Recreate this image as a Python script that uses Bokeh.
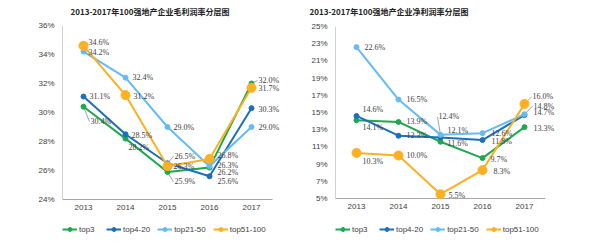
from bokeh.plotting import figure
from bokeh.layouts import row
from bokeh.models import (Range1d, FixedTicker, PrintfTickFormatter, Legend, LegendItem,
                          ColumnDataSource, Title, LabelSet)
from bokeh.embed import file_html
from bokeh.resources import INLINE

years = ["2013", "2014", "2015", "2016", "2017"]
series_names = ["top3", "top4-20", "top21-50", "top51-100"]

# gross margin (%)
gross_top3 = [30.4, 28.2, 25.9, 26.2, 32.0]
gross_top4_20 = [31.1, 28.5, 26.5, 25.6, 30.3]
gross_top21_50 = [34.2, 32.4, 29.0, 26.3, 29.0]
gross_top51_100 = [34.6, 31.2, 26.3, 26.8, 31.7]

# net margin (%)
net_top3 = [14.1, 13.9, 11.6, 9.7, 13.3]
net_top4_20 = [14.6, 12.3, 12.1, 11.8, 14.7]
net_top21_50 = [22.6, 16.5, 12.4, 12.6, 14.8]
net_top51_100 = [10.3, 10.0, 5.5, 8.3, 16.0]

gross_ticks = [24, 26, 28, 30, 32, 34, 36]
net_ticks = [5, 7, 9, 11, 13, 15, 17, 19, 21, 23, 25]

title_gross = "2013-2017年100强地产企业毛利润率分层图"
title_net = "2013-2017年100强地产企业净利润率分层图"

colors = ["#1FA84F", "#1E6EBE", "#66BBF2", "#FDB022"]
marker_sizes = [5, 5, 5, 9]

# label pixel offsets (dx, dy; dy positive = up) per series per year -- styling only
gross_offsets = [
    [(7, -15), (3, -9), (7, -10), (8, -5), (7, 3)],
    [(6, 0), (6, -1), (7, 7), (8, -5), (7, -1)],
    [(5, -1), (7, 0), (6, 0), (8, 1), (7, 0)],
    [(5, 3), (8, -1), (6, 0), (8, 3), (7, -1)],
]
net_offsets = [
    [(6, -7), (8, 0), (7, -2), (8, -1), (9, -1)],
    [(6, 6), (8, 0), (7, 7), (9, -1), (9, 3)],
    [(8, 0), (8, 0), (-2, 18), (9, 0), (9, 8)],
    [(6, -9), (8, 0), (8, -1), (11, -1), (8, 7)],
]
# which labels get a thin leader line (styling only)
gross_leaders = [
    [1, 0, 1, 0, 1],
    [0, 0, 1, 0, 0],
    [0, 0, 0, 0, 0],
    [1, 0, 0, 1, 0],
]
net_leaders = [
    [0, 0, 0, 0, 0],
    [0, 0, 0, 0, 0],
    [0, 0, 1, 0, 1],
    [0, 0, 0, 0, 1],
]

FONT = "Liberation Sans"
AXIS_COLOR = "#A6A6A6"
STEP = 42.0      # px per category
FRAME_TOP = 18
FRAME_BOTTOM = 234


def make_chart(title, data, ticks, offsets, leaders, left, top_px, bottom_px, title_offset):
    # top_px / bottom_px: pixel rows of the highest / lowest y tick
    ppu = (bottom_px - top_px) / (ticks[-1] - ticks[0])
    y0 = ticks[0] - (FRAME_BOTTOM - bottom_px) / ppu
    y1 = ticks[-1] + (top_px - FRAME_TOP) / ppu
    xs = list(range(len(years)))
    frame_w = 300 - left
    p = figure(width=300, height=249,
               x_range=Range1d(-0.5, -0.5 + frame_w / STEP), y_range=Range1d(y0, y1),
               output_backend="svg", toolbar_location=None,
               min_border_left=left, min_border_right=0,
               min_border_top=FRAME_TOP, min_border_bottom=249 - FRAME_BOTTOM)
    p.outline_line_color = None
    p.grid.grid_line_color = None
    p.background_fill_color = None
    p.border_fill_color = None

    p.xaxis.ticker = FixedTicker(ticks=xs)
    p.xaxis.major_label_overrides = {i: y for i, y in zip(xs, years)}
    p.xaxis.fixed_location = ticks[0]
    p.yaxis.ticker = FixedTicker(ticks=ticks)
    p.yaxis.formatter = PrintfTickFormatter(format="%d%%")
    for ax in (p.xaxis[0], p.yaxis[0]):
        ax.axis_line_color = None
        ax.major_tick_line_color = None
        ax.minor_tick_line_color = None
        ax.major_tick_out = 0
        ax.major_tick_in = 0
        ax.minor_tick_out = 0
        ax.minor_tick_in = 0
        ax.major_label_text_font = FONT
        ax.major_label_text_color = "#404040"
        ax.major_label_text_font_size = "8px"
    p.xaxis.major_label_standoff = 5
    p.yaxis.major_label_standoff = 8

    # axis lines limited to the tick span
    p.segment(x0=[-0.5, -0.5], y0=[ticks[0], ticks[0]],
              x1=[xs[-1] + 0.5, -0.5], y1=[ticks[0], ticks[-1]],
              line_color=AXIS_COLOR, line_width=1)

    t = Title(text=title, align="left", offset=title_offset,
              text_font="Noto Sans CJK SC", text_font_size="8px",
              text_font_style="bold", text_color="#222222", standoff=4)
    p.add_layout(t, "above")

    # leader lines from point to its label
    lx0, ly0, lx1, ly1 = [], [], [], []
    for vals, offs, leads in zip(data, offsets, leaders):
        for x, v, o, f in zip(xs, vals, offs, leaders and leads):
            if f:
                lx0.append(x)
                ly0.append(v)
                lx1.append(x + (o[0] - 1) / STEP)
                ly1.append(v + o[1] / ppu)
    p.segment(x0=lx0, y0=ly0, x1=lx1, y1=ly1, line_color="#8C8C8C", line_width=0.8)

    items = []
    for name, vals, col, ms, offs in zip(series_names, data, colors, marker_sizes, offsets):
        src = ColumnDataSource(dict(x=xs, y=vals,
                                    lab=["%.1f%%" % v for v in vals],
                                    dx=[o[0] for o in offs], dy=[o[1] for o in offs]))
        r1 = p.line("x", "y", source=src, line_color=col, line_width=2)
        r2 = p.scatter("x", "y", source=src, size=ms, fill_color=col, line_color=col)
        items.append(LegendItem(label=name, renderers=[r1, r2]))
        ls = LabelSet(x="x", y="y", text="lab", source=src, x_offset="dx", y_offset="dy",
                      text_font=FONT, text_font_size="8px", text_color="#404040",
                      text_align="left", text_baseline="middle")
        p.add_layout(ls)

    leg = Legend(items=items, orientation="horizontal", location=(0, 0),
                 border_line_color=None, background_fill_alpha=0,
                 padding=0, margin=0, spacing=7, label_standoff=2,
                 glyph_width=15, glyph_height=10, label_height=10,
                 label_text_font=FONT, label_text_font_size="8px",
                 label_text_color="#404040")
    p.add_layout(leg, "center")
    return p


p1 = make_chart(title_gross,
                [gross_top3, gross_top4_20, gross_top21_50, gross_top51_100],
                gross_ticks, gross_offsets, gross_leaders, 62, 25, 199, 8)
p2 = make_chart(title_net,
                [net_top3, net_top4_20, net_top21_50, net_top51_100],
                net_ticks, net_offsets, net_leaders, 35, 26, 198, -26)

layout = row(p1, p2, spacing=0)
open("out.html", "w").write(file_html(layout, INLINE))
